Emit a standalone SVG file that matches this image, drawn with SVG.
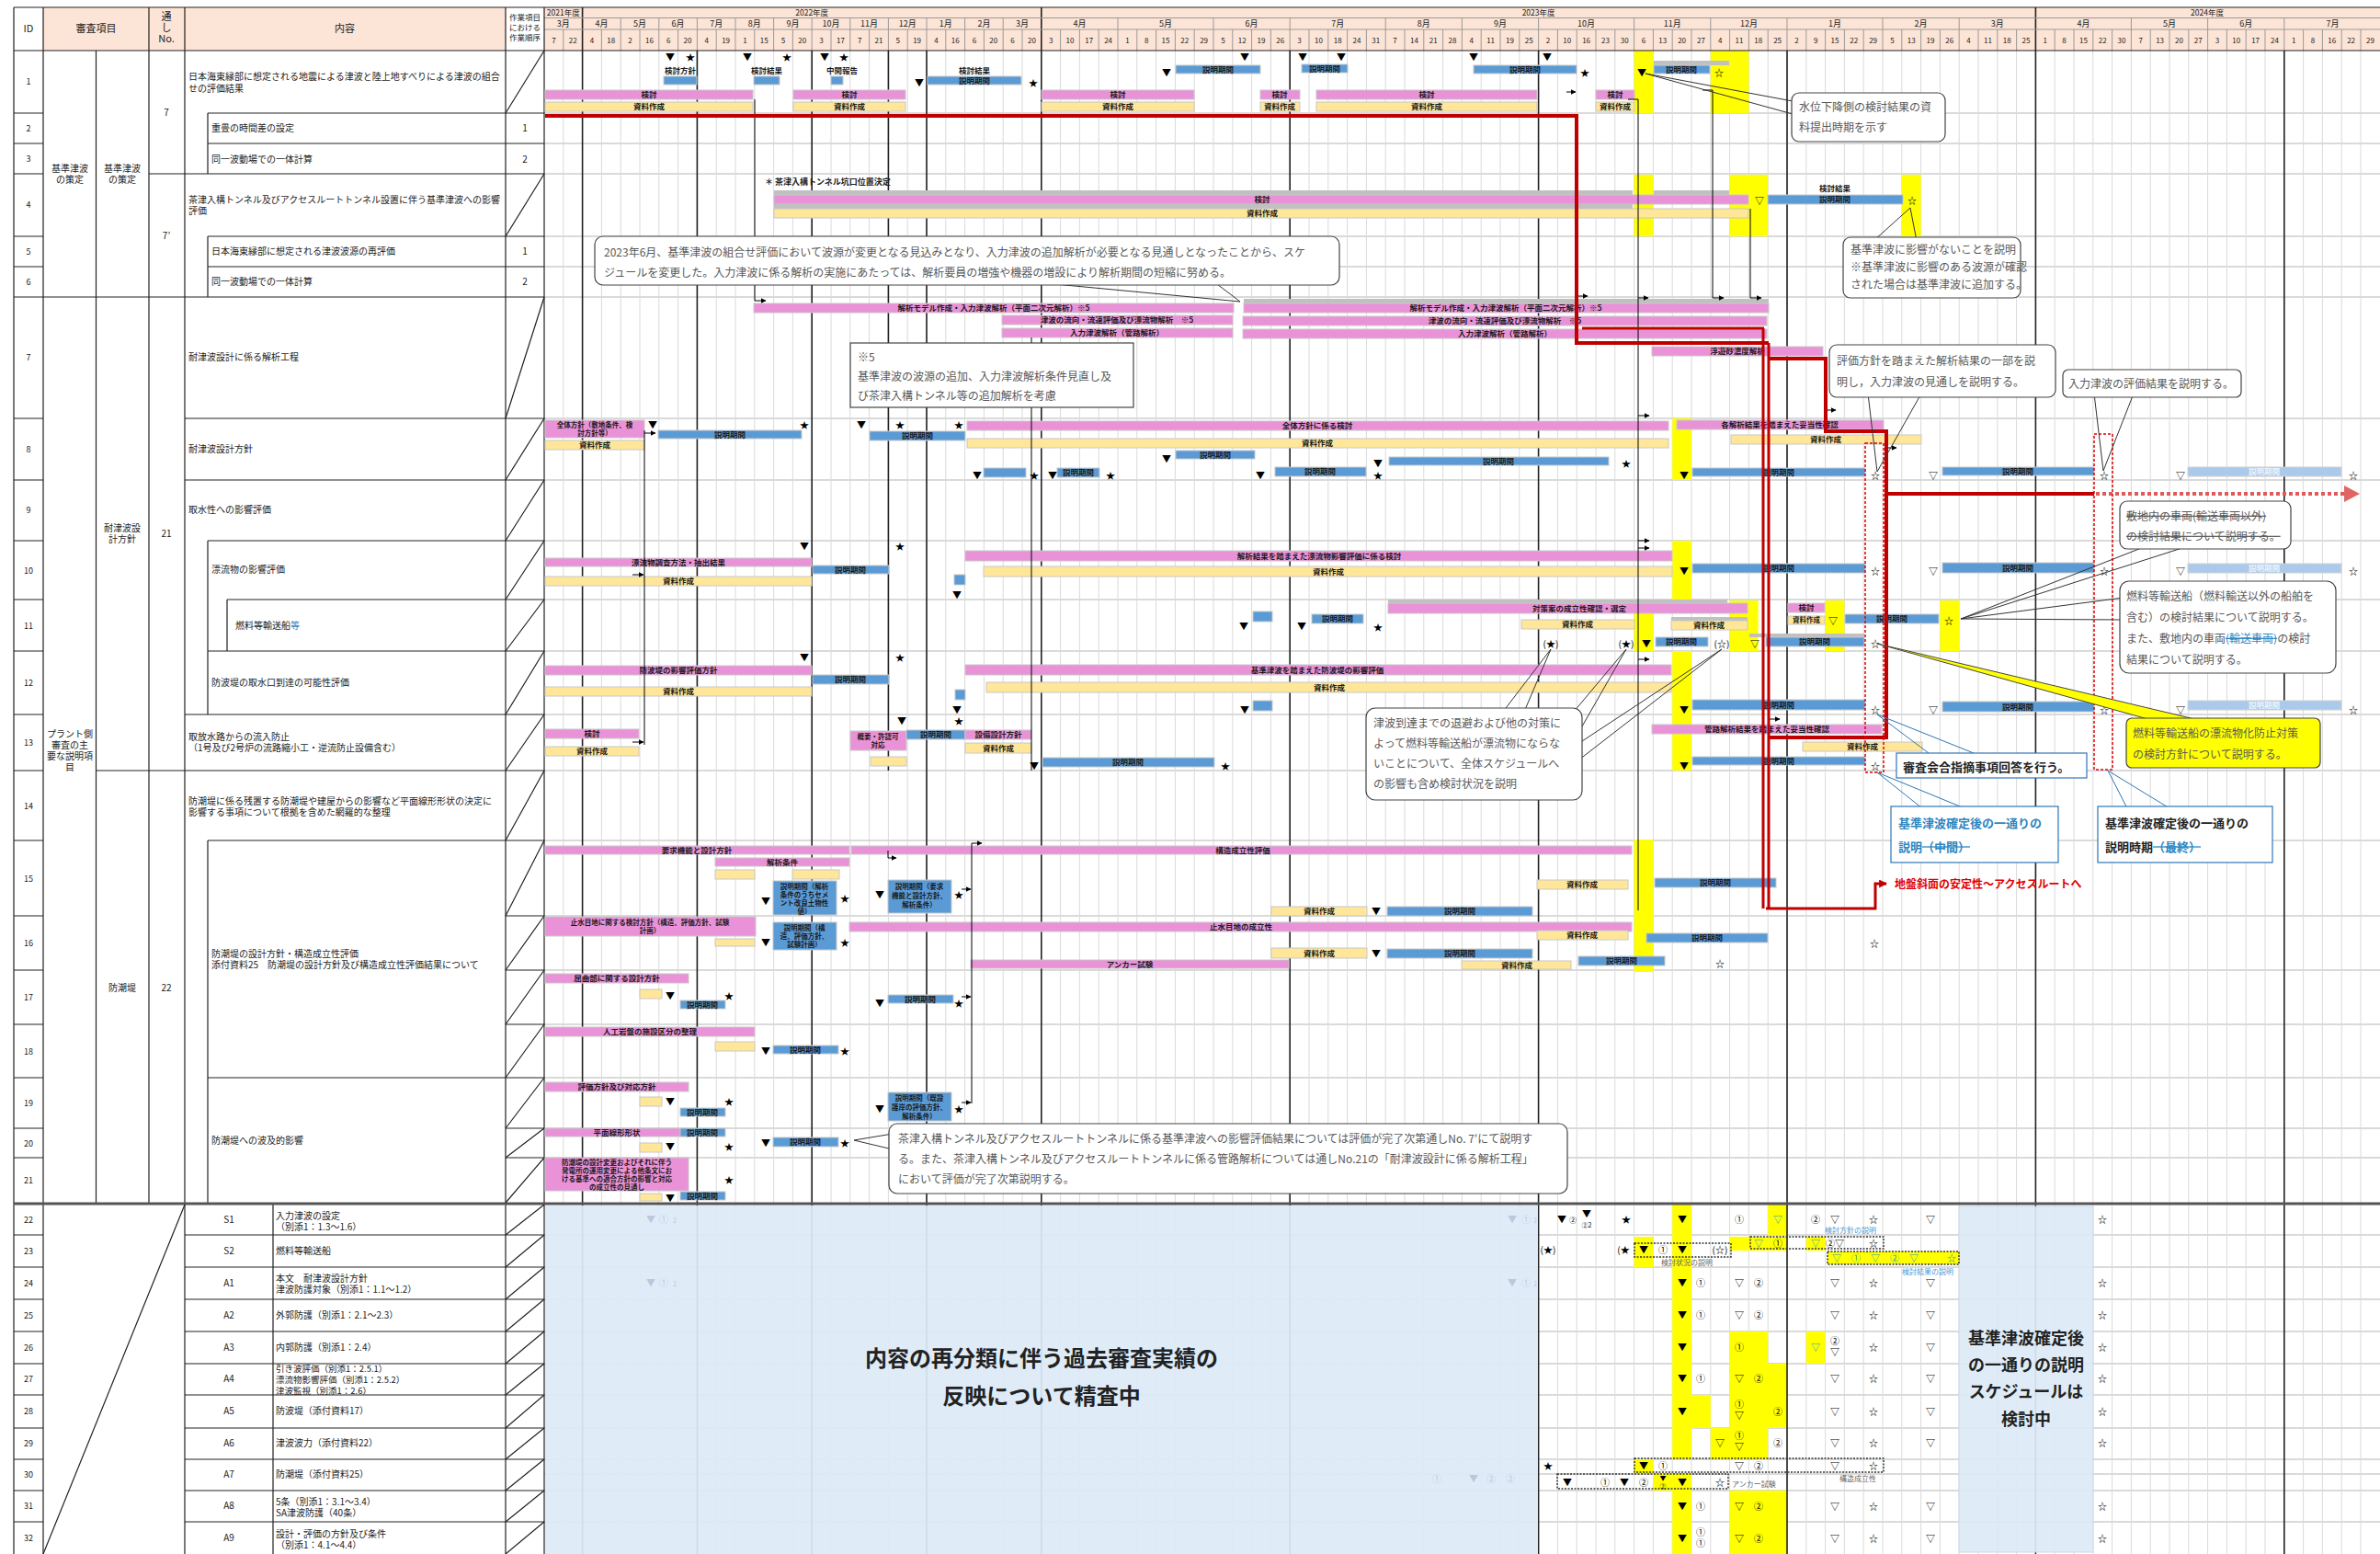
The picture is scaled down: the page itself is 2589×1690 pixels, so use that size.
<svg xmlns="http://www.w3.org/2000/svg" width="2589" height="1690" viewBox="0 0 2589 1690">
<defs>
<style>
text{font-family:"Noto Sans CJK JP","Noto Sans",sans-serif}
.h{font-size:11px;fill:#222;text-anchor:middle}
.hs{font-size:8.5px;fill:#222;text-anchor:middle}
.yr{font-size:8.5px;fill:#222;text-anchor:middle}
.mo{font-size:9px;fill:#222;text-anchor:middle}
.d{font-size:8px;fill:#222;text-anchor:middle}
.id{font-size:9px;fill:#222;text-anchor:middle}
.c{font-size:10px;fill:#222}
.cm{font-size:10px;fill:#222;text-anchor:middle}
.c9{font-size:9.5px;fill:#222}
.pk{fill:#EA92D8;stroke:#C8C8C8;stroke-width:1}
.yl{fill:#FFE699;stroke:#C8C8C8;stroke-width:1}
.bl{fill:#5B9BD5;stroke:#C8C8C8;stroke-width:1}
.lb{fill:#ABCAEB;stroke:#D0D0D0;stroke-width:1}
.gy{fill:#C0C0C0}
.hl{fill:#FFFF00}
.bt{font-size:8.5px;font-weight:bold;fill:#1a1a1a;text-anchor:middle}
.bs{font-size:7.5px;font-weight:bold;fill:#1a1a1a;text-anchor:middle}
.lt{font-size:8.5px;font-weight:bold;fill:#EEF4FB;text-anchor:middle}
.m{font-size:10px;fill:#000;text-anchor:middle}
.mt{font-size:10px;fill:#2AA0B5;text-anchor:middle}
.mf{font-size:10px;fill:#B9C9DA;text-anchor:middle}
.ms{font-size:7px;fill:#000;text-anchor:middle}
.grid{stroke:#DADADA;stroke-width:1;fill:none}
.hg{stroke:#9A9A9A;stroke-width:1;fill:none}
.rowl{stroke:#DADADA;stroke-width:2;fill:none}
.q{stroke:#222;stroke-width:1.6;fill:none}
.tl{stroke:#222;stroke-width:1.2;fill:none}
.cn{stroke:#000;stroke-width:1;fill:none}
.rd{stroke:#C00000;stroke-width:4;fill:none}
.rd3{stroke:#C00000;stroke-width:3;fill:none}
.co{fill:#fff;stroke:#444;stroke-width:1.2}
.ct{font-size:12px;fill:#595959}
.ptr{stroke:#333;stroke-width:1;fill:none}
.dot{fill:none;stroke:#333;stroke-width:1.5;stroke-dasharray:2,1.5}
.gl{font-size:8px;fill:#666}
.bll{font-size:8px;fill:#4A9AD8}
</style>
<marker id="ah" viewBox="0 0 6 6" markerWidth="6" markerHeight="6" refX="5.5" refY="3" orient="auto" markerUnits="userSpaceOnUse"><path d="M0,0L6,3L0,6z" fill="#000"/></marker>
<marker id="ahr" viewBox="0 0 8 8" markerWidth="9" markerHeight="9" refX="7" refY="4" orient="auto" markerUnits="userSpaceOnUse"><path d="M0,0L8,4L0,8z" fill="#C00000"/></marker>
</defs>
<rect width="2589" height="1690" fill="#fff"/>

<g id="header-fill">
<rect x="47" y="8" width="503" height="47" fill="#FCE4D6"/>
<rect x="592" y="8" width="1997" height="47" fill="#FCE4D6"/>
</g>

<g id="grid">
<path class="grid" d="M612.8,55V1690M633.6,55V1690M654.4,55V1690M675.2,55V1690M696,55V1690M716.8,55V1690M737.6,55V1690M758.4,55V1690M779.2,55V1690M800,55V1690M820.8,55V1690M841.6,55V1690M862.4,55V1690M883.2,55V1690M904,55V1690M924.8,55V1690M945.6,55V1690M966.4,55V1690M987.2,55V1690M1008,55V1690M1028.8,55V1690M1049.6,55V1690M1070.4,55V1690M1091.2,55V1690M1112,55V1690M1132.8,55V1690M1153.6,55V1690M1174.4,55V1690M1195.2,55V1690M1216,55V1690M1236.8,55V1690M1257.6,55V1690M1278.4,55V1690M1299.2,55V1690M1320,55V1690M1340.8,55V1690M1361.6,55V1690M1382.4,55V1690M1403.2,55V1690M1424,55V1690M1444.8,55V1690M1465.6,55V1690M1486.4,55V1690M1507.2,55V1690M1528,55V1690M1548.8,55V1690M1569.6,55V1690M1590.4,55V1690M1611.2,55V1690M1632,55V1690M1652.8,55V1690M1673.6,55V1690M1694.4,55V1690M1715.2,55V1690M1736,55V1690M1756.8,55V1690M1777.6,55V1690M1798.4,55V1690M1819.2,55V1690M1840,55V1690M1860.8,55V1690M1881.6,55V1690M1902.4,55V1690M1923.2,55V1690M1944,55V1690M1964.8,55V1690M1985.6,55V1690M2006.4,55V1690M2027.2,55V1690M2048,55V1690M2068.8,55V1690M2089.6,55V1690M2110.4,55V1690M2131.2,55V1690M2152,55V1690M2172.8,55V1690M2193.6,55V1690M2214.4,55V1690M2235.2,55V1690M2256,55V1690M2276.8,55V1690M2297.6,55V1690M2318.4,55V1690M2339.2,55V1690M2360,55V1690M2380.8,55V1690M2401.6,55V1690M2422.4,55V1690M2443.2,55V1690M2464,55V1690M2484.8,55V1690M2505.6,55V1690M2526.4,55V1690M2547.2,55V1690M2568,55V1690"/>
<path class="rowl" d="M592,123H2589M592,156H2589M592,189H2589M592,257H2589M592,290H2589M592,323H2589M592,455H2589M592,522H2589M592,588H2589M592,652H2589M592,708H2589M592,777H2589M592,838H2589M592,914H2589M592,996H2589M592,1055H2589M592,1114H2589M592,1172H2589M592,1227H2589M592,1259H2589M592,1343H2589M592,1378H2589M592,1413H2589M592,1448H2589M592,1483H2589M592,1517H2589M592,1553H2589M592,1587H2589M592,1603H2589M592,1621H2589M592,1655H2589"/>
</g>

<g id="highlights">
<rect class="hl" x="1777.6" y="55" width="20.8" height="68"/>
<rect class="hl" x="1860.8" y="55" width="41.6" height="68"/>
<rect class="hl" x="1777.6" y="190" width="20.8" height="67"/>
<rect class="hl" x="1881.6" y="190" width="41.6" height="67"/>
<rect class="hl" x="2068.8" y="190" width="20.8" height="67"/>
<rect class="hl" x="1819.2" y="455" width="20.8" height="67"/>
<rect class="hl" x="1819.2" y="588" width="20.8" height="65"/>
<rect class="hl" x="1777.6" y="667" width="20.8" height="41"/>
<rect class="hl" x="1881.6" y="653" width="31" height="55"/>
<rect class="hl" x="1985.6" y="653" width="20.8" height="55"/>
<rect class="hl" x="2110.4" y="653" width="20.8" height="55"/>
<rect class="hl" x="1819.2" y="708" width="20.8" height="130"/>
<rect class="hl" x="1777.6" y="913" width="20.8" height="144"/>
<rect class="hl" x="1819.2" y="1310" width="20.8" height="33"/>
<rect class="hl" x="1923.2" y="1310" width="20.8" height="33"/>
<rect class="hl" x="1777.6" y="1345" width="20.8" height="33"/>
<rect class="hl" x="1819.2" y="1343" width="20.8" height="35"/>
<rect class="hl" x="1881.6" y="1345" width="62.4" height="15"/>
<rect class="hl" x="1964.8" y="1345" width="20.8" height="15"/>
<rect class="hl" x="1819.2" y="1378" width="20.8" height="70"/>
<rect class="hl" x="1819.2" y="1448" width="20.8" height="35"/>
<rect class="hl" x="1881.6" y="1448" width="41.6" height="35"/>
<rect class="hl" x="1964.8" y="1448" width="20.8" height="35"/>
<rect class="hl" x="1819.2" y="1483" width="20.8" height="34"/>
<rect class="hl" x="1881.6" y="1483" width="62.4" height="34"/>
<rect class="hl" x="1819.2" y="1517" width="41.6" height="36"/>
<rect class="hl" x="1881.6" y="1517" width="62.4" height="36"/>
<rect class="hl" x="1819.2" y="1553" width="20.8" height="34"/>
<rect class="hl" x="1860.8" y="1553" width="62.4" height="34"/>
<rect class="hl" x="1777.6" y="1587" width="20.8" height="16"/>
<rect class="hl" x="1798.4" y="1603" width="41.6" height="18"/>
<rect class="hl" x="1819.2" y="1621" width="20.8" height="69"/>
<rect class="hl" x="1881.6" y="1621" width="62.4" height="69"/>
</g>

<g id="quarter-lines">
<path class="q" d="M633.6,8V1690M758.4,55V1690M883.2,55V1690M1008,55V1690M1132.8,8V1690M1403.2,55V1690M1673.6,55V1690M1944,55V1690M2214.4,8V1690M2484.8,55V1690M966.4,55V838"/>
</g>

<g id="review-block">
<rect x="593" y="1311" width="1080" height="379" fill="#DDEBF7" opacity="0.93"/>
<text class="mf" y="1330"><tspan x="708">▼</tspan><tspan x="722">①</tspan><tspan x="734" font-size="7">2</tspan><tspan x="1645">▼</tspan><tspan x="1660">①</tspan><tspan x="1670" font-size="7">2</tspan></text>
<text class="mf" y="1399"><tspan x="708">▼</tspan><tspan x="722">①</tspan><tspan x="734" font-size="7">2</tspan><tspan x="1645">▼</tspan><tspan x="1660">①</tspan><tspan x="1670" font-size="7">2</tspan></text>
<text class="mf" y="1612"><tspan x="1563">①</tspan><tspan x="1603">▼</tspan><tspan x="1622">②</tspan><tspan x="1643">②</tspan></text>
<text x="1133" y="1486" font-size="24" font-weight="bold" fill="#222" text-anchor="middle">内容の再分類に伴う過去審査実績の</text>
<text x="1133" y="1527" font-size="24" font-weight="bold" fill="#222" text-anchor="middle">反映について精査中</text>
</g>
<g id="schedule-block">
<rect x="2131" y="1312" width="146" height="376" fill="#DDEBF7" stroke="#C8D6E5" opacity="0.92"/>
<text x="2204" y="1462" font-size="18" font-weight="bold" fill="#222" text-anchor="middle">基準津波確定後</text>
<text x="2204" y="1491" font-size="18" font-weight="bold" fill="#222" text-anchor="middle">の一通りの説明</text>
<text x="2204" y="1520" font-size="18" font-weight="bold" fill="#222" text-anchor="middle">スケジュールは</text>
<text x="2204" y="1550" font-size="18" font-weight="bold" fill="#222" text-anchor="middle">検討中</text>
</g>

<g id="header-timeline">
<path class="hg" d="M592,19.5H2589M592,32H2589"/>
<path class="hg" d="M675.2,19.5V55M716.8,19.5V55M758.4,19.5V55M800,19.5V55M841.6,19.5V55M883.2,19.5V55M924.8,19.5V55M966.4,19.5V55M1008,19.5V55M1049.6,19.5V55M1091.2,19.5V55M1216,19.5V55M1320,19.5V55M1403.2,19.5V55M1507.2,19.5V55M1590.4,19.5V55M1673.6,19.5V55M1777.6,19.5V55M1860.8,19.5V55M1944,19.5V55M2048,19.5V55M2131.2,19.5V55M2318.4,19.5V55M2401.6,19.5V55M2484.8,19.5V55"/>
<path class="hg" d="M612.8,32V55M654.4,32V55M696,32V55M737.6,32V55M779.2,32V55M820.8,32V55M862.4,32V55M904,32V55M945.6,32V55M987.2,32V55M1028.8,32V55M1070.4,32V55M1112,32V55M1153.6,32V55M1174.4,32V55M1195.2,32V55M1236.8,32V55M1257.6,32V55M1278.4,32V55M1299.2,32V55M1340.8,32V55M1361.6,32V55M1382.4,32V55M1424,32V55M1444.8,32V55M1465.6,32V55M1486.4,32V55M1528,32V55M1548.8,32V55M1569.6,32V55M1611.2,32V55M1632,32V55M1652.8,32V55M1694.4,32V55M1715.2,32V55M1736,32V55M1756.8,32V55M1798.4,32V55M1819.2,32V55M1840,32V55M1881.6,32V55M1902.4,32V55M1923.2,32V55M1964.8,32V55M1985.6,32V55M2006.4,32V55M2027.2,32V55M2068.8,32V55M2089.6,32V55M2110.4,32V55M2152,32V55M2172.8,32V55M2193.6,32V55M2235.2,32V55M2256,32V55M2276.8,32V55M2297.6,32V55M2339.2,32V55M2360,32V55M2380.8,32V55M2422.4,32V55M2443.2,32V55M2464,32V55M2505.6,32V55M2526.4,32V55M2547.2,32V55M2568,32V55"/>
<text class="yr" x="612.8" y="17">2021年度</text>
<text class="yr" x="883.2" y="17">2022年度</text>
<text class="yr" x="1673.6" y="17">2023年度</text>
<text class="yr" x="2401" y="17">2024年度</text>
<text class="mo" y="29"><tspan x="612.8">3月</tspan><tspan x="654.4">4月</tspan><tspan x="696">5月</tspan><tspan x="737.6">6月</tspan><tspan x="779.2">7月</tspan><tspan x="820.8">8月</tspan><tspan x="862.4">9月</tspan><tspan x="904">10月</tspan><tspan x="945.6">11月</tspan><tspan x="987.2">12月</tspan><tspan x="1028.8">1月</tspan><tspan x="1070.4">2月</tspan><tspan x="1112">3月</tspan><tspan x="1174.4">4月</tspan><tspan x="1268">5月</tspan><tspan x="1361.6">6月</tspan><tspan x="1455.2">7月</tspan><tspan x="1548.8">8月</tspan><tspan x="1632">9月</tspan><tspan x="1725.6">10月</tspan><tspan x="1819.2">11月</tspan><tspan x="1902.4">12月</tspan><tspan x="1996">1月</tspan><tspan x="2089.6">2月</tspan><tspan x="2172.8">3月</tspan><tspan x="2266.4">4月</tspan><tspan x="2360">5月</tspan><tspan x="2443.2">6月</tspan><tspan x="2537.6">7月</tspan></text>
<text class="d" y="47"><tspan x="602.4">7</tspan><tspan x="623.2">22</tspan><tspan x="644">4</tspan><tspan x="664.8">18</tspan><tspan x="685.6">2</tspan><tspan x="706.4">16</tspan><tspan x="727.2">6</tspan><tspan x="748">20</tspan><tspan x="768.8">4</tspan><tspan x="789.6">19</tspan><tspan x="810.4">1</tspan><tspan x="831.2">15</tspan><tspan x="852">5</tspan><tspan x="872.8">20</tspan><tspan x="893.6">3</tspan><tspan x="914.4">17</tspan><tspan x="935.2">7</tspan><tspan x="956">21</tspan><tspan x="976.8">5</tspan><tspan x="997.6">19</tspan><tspan x="1018.4">4</tspan><tspan x="1039.2">16</tspan><tspan x="1060">6</tspan><tspan x="1080.8">20</tspan><tspan x="1101.6">6</tspan><tspan x="1122.4">20</tspan><tspan x="1143.2">3</tspan><tspan x="1164">10</tspan><tspan x="1184.8">17</tspan><tspan x="1205.6">24</tspan><tspan x="1226.4">1</tspan><tspan x="1247.2">8</tspan><tspan x="1268">15</tspan><tspan x="1288.8">22</tspan><tspan x="1309.6">29</tspan><tspan x="1330.4">5</tspan><tspan x="1351.2">12</tspan><tspan x="1372">19</tspan><tspan x="1392.8">26</tspan><tspan x="1413.6">3</tspan><tspan x="1434.4">10</tspan><tspan x="1455.2">18</tspan><tspan x="1476">24</tspan><tspan x="1496.8">31</tspan><tspan x="1517.6">7</tspan><tspan x="1538.4">14</tspan><tspan x="1559.2">21</tspan><tspan x="1580">28</tspan><tspan x="1600.8">4</tspan><tspan x="1621.6">11</tspan><tspan x="1642.4">19</tspan><tspan x="1663.2">25</tspan><tspan x="1684">2</tspan><tspan x="1704.8">10</tspan><tspan x="1725.6">16</tspan><tspan x="1746.4">23</tspan><tspan x="1767.2">30</tspan><tspan x="1788">6</tspan><tspan x="1808.8">13</tspan><tspan x="1829.6">20</tspan><tspan x="1850.4">27</tspan><tspan x="1871.2">4</tspan><tspan x="1892">11</tspan><tspan x="1912.8">18</tspan><tspan x="1933.6">25</tspan><tspan x="1954.4">2</tspan><tspan x="1975.2">9</tspan><tspan x="1996">15</tspan><tspan x="2016.8">22</tspan><tspan x="2037.6">29</tspan><tspan x="2058.4">5</tspan><tspan x="2079.2">13</tspan><tspan x="2100">19</tspan><tspan x="2120.8">26</tspan><tspan x="2141.6">4</tspan><tspan x="2162.4">11</tspan><tspan x="2183.2">18</tspan><tspan x="2204">25</tspan><tspan x="2224.8">1</tspan><tspan x="2245.6">8</tspan><tspan x="2266.4">15</tspan><tspan x="2287.2">22</tspan><tspan x="2308">30</tspan><tspan x="2328.8">7</tspan><tspan x="2349.6">13</tspan><tspan x="2370.4">20</tspan><tspan x="2391.2">27</tspan><tspan x="2412">3</tspan><tspan x="2432.8">10</tspan><tspan x="2453.6">17</tspan><tspan x="2474.4">24</tspan><tspan x="2495.2">1</tspan><tspan x="2516">8</tspan><tspan x="2536.8">16</tspan><tspan x="2557.6">22</tspan><tspan x="2578.4">29</tspan></text>
</g>

<g id="left-table">
<path class="tl" d="M15,8H2589M15,55H2589M15,8V1690M47,8V1690M104.5,55V1308M162,8V1308M201,8V1690M550,8V1690M592,8V1690M226,123V189M226,257V323M226,588V777M247,652V708M226,914V1308M297,1310V1690"/>
<path class="tl" d="M15,123H47M15,156H47M15,189H47M15,257H47M15,290H47M15,323H201M15,455H47M15,522H47M15,588H47M15,652H47M15,708H47M15,777H47M15,838H47M104.5,838H201M15,914H47M15,996H47M15,1055H47M15,1114H47M15,1172H47M15,1227H47M15,1259H47M162,189H201"/>
<path class="tl" d="M226,123H592M226,156H592M201,189H592M226,257H592M226,290H592M201,323H592M201,455H592M201,522H592M226,588H592M247,652H592M226,708H592M201,777H592M201,838H592M226,914H592M550,996H592M550,1055H592M550,1114H592M226,1172H592M550,1227H592M550,1259H592"/>
<path d="M15,1309H2589" stroke="#555" stroke-width="3"/>
<path class="tl" d="M15,1343H47M15,1378H47M15,1413H47M15,1448H47M15,1483H47M15,1517H47M15,1553H47M15,1587H47M15,1621H47M15,1655H47M201,1343H592M201,1378H592M201,1413H592M201,1448H592M201,1483H592M201,1517H592M201,1553H592M201,1587H592M201,1621H592M201,1655H592M201,1310L47,1690"/>
<path class="tl" d="M550,123L592,55M550,257L592,189M550,455L592,323M550,522L592,455M550,588L592,522M550,652L592,588M550,708L592,652M550,777L592,708M550,838L592,777M550,914L592,838M550,996L592,914M550,1055L592,996M550,1114L592,1055M550,1172L592,1114M550,1227L592,1172M550,1259L592,1227M550,1308L592,1259M550,1343L592,1310M550,1378L592,1343M550,1413L592,1378M550,1448L592,1413M550,1483L592,1448M550,1517L592,1483M550,1553L592,1517M550,1587L592,1553M550,1621L592,1587M550,1655L592,1621M550,1690L592,1655"/>
<text class="h" x="31" y="35" font-size="10">ID</text>
<text class="h" x="104.5" y="35">審査項目</text>
<text class="h" x="181" y="22" font-size="10">通</text>
<text class="h" x="181" y="34" font-size="10">し</text>
<text class="h" x="181" y="46" font-size="10">No.</text>
<text class="h" x="375" y="35">内容</text>
<text class="hs" x="571" y="22">作業項目</text>
<text class="hs" x="571" y="33">における</text>
<text class="hs" x="571" y="44">作業順序</text>
<text class="id" y="0"><tspan x="31" y="92">1</tspan><tspan x="31" y="143">2</tspan><tspan x="31" y="176">3</tspan><tspan x="31" y="226">4</tspan><tspan x="31" y="277">5</tspan><tspan x="31" y="310">6</tspan><tspan x="31" y="392">7</tspan><tspan x="31" y="492">8</tspan><tspan x="31" y="558">9</tspan><tspan x="31" y="624">10</tspan><tspan x="31" y="684">11</tspan><tspan x="31" y="746">12</tspan><tspan x="31" y="811">13</tspan><tspan x="31" y="880">14</tspan><tspan x="31" y="959">15</tspan><tspan x="31" y="1029">16</tspan><tspan x="31" y="1088">17</tspan><tspan x="31" y="1147">18</tspan><tspan x="31" y="1203">19</tspan><tspan x="31" y="1247">20</tspan><tspan x="31" y="1287">21</tspan><tspan x="31" y="1330">22</tspan><tspan x="31" y="1364">23</tspan><tspan x="31" y="1399">24</tspan><tspan x="31" y="1434">25</tspan><tspan x="31" y="1469">26</tspan><tspan x="31" y="1503">27</tspan><tspan x="31" y="1538">28</tspan><tspan x="31" y="1573">29</tspan><tspan x="31" y="1607">30</tspan><tspan x="31" y="1641">31</tspan><tspan x="31" y="1676">32</tspan></text>
<text class="cm" x="76" y="187">基準津波</text><text class="cm" x="76" y="199">の策定</text>
<text class="cm" x="133" y="187">基準津波</text><text class="cm" x="133" y="199">の策定</text>
<text class="cm" x="76" y="802">プラント側</text><text class="cm" x="76" y="814">審査の主</text><text class="cm" x="76" y="826">要な説明項</text><text class="cm" x="76" y="838">目</text>
<text class="cm" x="133" y="578">耐津波設</text><text class="cm" x="133" y="590">計方針</text>
<text class="cm" x="133" y="1078">防潮堤</text>
<text class="cm" x="181" y="126">7</text>
<text class="cm" x="181" y="260">7’</text>
<text class="cm" x="181" y="584">21</text>
<text class="cm" x="181" y="1078">22</text>
<text class="c" x="205" y="87">日本海東縁部に想定される地震による津波と陸上地すべりによる津波の組合</text>
<text class="c" x="205" y="100">せの評価結果</text>
<text class="c" x="230" y="143">重畳の時間差の設定</text>
<text class="c" x="230" y="177">同一波動場での一体計算</text>
<text class="c" x="205" y="221">茶津入構トンネル及びアクセスルートトンネル設置に伴う基準津波への影響</text>
<text class="c" x="205" y="233">評価</text>
<text class="c" x="230" y="277">日本海東縁部に想定される津波波源の再評価</text>
<text class="c" x="230" y="310">同一波動場での一体計算</text>
<text class="cm" x="571" y="143">1</text><text class="cm" x="571" y="177">2</text>
<text class="cm" x="571" y="277">1</text><text class="cm" x="571" y="310">2</text>
<text class="c" x="205" y="392">耐津波設計に係る解析工程</text>
<text class="c" x="205" y="492">耐津波設計方針</text>
<text class="c" x="205" y="558">取水性への影響評価</text>
<text class="c" x="230" y="623">漂流物の影響評価</text>
<text class="c" x="256" y="684">燃料等輸送船<tspan fill="#2E86C1">等</tspan></text>
<text class="c" x="230" y="746">防波堤の取水口到達の可能性評価</text>
<text class="c" x="205" y="805">取放水路からの流入防止</text>
<text class="c" x="205" y="817">（1号及び2号炉の流路縮小工・逆流防止設備含む）</text>
<text class="c" x="205" y="875">防潮堤に係る残置する防潮堤や建屋からの影響など平面線形形状の決定に</text>
<text class="c" x="205" y="887">影響する事項について根拠を含めた網羅的な整理</text>
<text class="c" x="230" y="1041">防潮堤の設計方針・構造成立性評価</text>
<text class="c" x="230" y="1053">添付資料25　防潮堤の設計方針及び構造成立性評価結果について</text>
<text class="c" x="230" y="1244">防潮堤への波及的影響</text>
<text class="cm" x="249" y="1330">S1</text><text class="c" x="300" y="1326">入力津波の設定</text><text class="c" x="300" y="1338">（別添1：1.3〜1.6）</text>
<text class="cm" x="249" y="1364">S2</text><text class="c" x="300" y="1364">燃料等輸送船</text>
<text class="cm" x="249" y="1399">A1</text><text class="c" x="300" y="1394">本文　耐津波設計方針</text><text class="c" x="300" y="1406">津波防護対象（別添1：1.1〜1.2）</text>
<text class="cm" x="249" y="1434">A2</text><text class="c" x="300" y="1434">外郭防護（別添1：2.1〜2.3）</text>
<text class="cm" x="249" y="1469">A3</text><text class="c" x="300" y="1469">内郭防護（別添1：2.4）</text>
<text class="cm" x="249" y="1503">A4</text><text class="c9" x="300" y="1492">引き波評価（別添1：2.5.1）</text><text class="c9" x="300" y="1504">漂流物影響評価（別添1：2.5.2）</text><text class="c9" x="300" y="1516">津波監視（別添1：2.6）</text>
<text class="cm" x="249" y="1538">A5</text><text class="c" x="300" y="1538">防波堤（添付資料17）</text>
<text class="cm" x="249" y="1573">A6</text><text class="c" x="300" y="1573">津波波力（添付資料22）</text>
<text class="cm" x="249" y="1607">A7</text><text class="c" x="300" y="1607">防潮堤（添付資料25）</text>
<text class="cm" x="249" y="1641">A8</text><text class="c" x="300" y="1637">5条（別添1：3.1〜3.4）</text><text class="c" x="300" y="1649">SA津波防護（40条）</text>
<text class="cm" x="249" y="1676">A9</text><text class="c" x="300" y="1672">設計・評価の方針及び条件</text><text class="c" x="300" y="1684">（別添1：4.1〜4.4）</text>
</g>

<g id="row-1">
<rect class="pk" x="593" y="98" width="226" height="10"/><text class="bt" x="706" y="106">検討</text>
<rect class="yl" x="593" y="111" width="226" height="10"/><text class="bt" x="706" y="119">資料作成</text>
<rect class="pk" x="863" y="98" width="122" height="10"/><text class="bt" x="924" y="106">検討</text>
<rect class="yl" x="863" y="111" width="122" height="10"/><text class="bt" x="924" y="119">資料作成</text>
<rect class="pk" x="1133" y="98" width="166" height="10"/><text class="bt" x="1216" y="106">検討</text>
<rect class="yl" x="1133" y="111" width="166" height="10"/><text class="bt" x="1216" y="119">資料作成</text>
<rect class="pk" x="1371" y="98" width="43" height="10"/><text class="bt" x="1392" y="106">検討</text>
<rect class="yl" x="1371" y="111" width="43" height="10"/><text class="bt" x="1392" y="119">資料作成</text>
<rect class="pk" x="1432" y="98" width="240" height="10"/><text class="bt" x="1552" y="106">検討</text>
<rect class="yl" x="1432" y="111" width="240" height="10"/><text class="bt" x="1552" y="119">資料作成</text>
<rect class="pk" x="1736" y="98" width="42" height="10"/><text class="bt" x="1757" y="106">検討</text>
<rect class="yl" x="1736" y="111" width="42" height="10"/><text class="bt" x="1757" y="119">資料作成</text>
<text class="bt" x="740" y="80">検討方針</text><rect class="bl" x="722" y="83" width="36" height="9"/>
<text class="bt" x="834" y="80">検討結果</text><rect class="bl" x="820" y="83" width="28" height="9"/>
<text class="bt" x="916" y="80">中間報告</text><rect class="bl" x="904" y="83" width="13" height="9"/>
<text class="bt" x="1060" y="80">検討結果</text><rect class="bl" x="1009" y="83" width="102" height="9"/><text class="bt" x="1060" y="91">説明期間</text>
<rect class="bl" x="1279" y="71" width="92" height="9"/><text class="bt" x="1325" y="79">説明期間</text>
<rect class="bl" x="1416" y="70" width="50" height="9"/><text class="bt" x="1441" y="78">説明期間</text>
<rect class="bl" x="1603" y="71" width="112" height="9"/><text class="bt" x="1659" y="79">説明期間</text>
<rect class="gy" x="1799" y="66" width="82" height="5"/>
<rect class="bl" x="1799" y="71" width="61" height="9"/><text class="bt" x="1829" y="79">説明期間</text>
<text class="m" y="66"><tspan x="729">▼</tspan><tspan x="751">★</tspan><tspan x="813">▼</tspan><tspan x="856">★</tspan><tspan x="897">▼</tspan><tspan x="918">★</tspan><tspan x="1354">▼</tspan><tspan x="1417">▼</tspan><tspan x="1459">▼</tspan><tspan x="1603">▼</tspan><tspan x="1683">▼</tspan></text>
<text class="m" y="94"><tspan x="1000">▼</tspan><tspan x="1124">★</tspan></text>
<text class="m" y="83"><tspan x="1269">▼</tspan><tspan x="1724">★</tspan><tspan x="1786">▼</tspan><tspan x="1870">☆</tspan></text>
</g>

<g id="row-4">
<text x="832" y="201" font-size="9" font-weight="bold" fill="#222">＊ 茶津入構トンネル坑口位置決定</text>
<rect class="gy" x="842" y="207" width="934" height="5"/>
<rect class="gy" x="1799" y="207" width="82" height="5"/>
<rect class="pk" x="842" y="212" width="1060" height="10"/><text class="bt" x="1373" y="220">検討</text>
<rect class="gy" x="842" y="222" width="934" height="5"/>
<rect class="yl" x="842" y="227" width="1060" height="10"/><text class="bt" x="1373" y="235">資料作成</text>
<text class="bt" x="1996" y="208">検討結果</text>
<rect class="bl" x="1923" y="212" width="147" height="10"/><text class="bt" x="1996" y="220">説明期間</text>
<text class="m" y="222"><tspan x="1914">▽</tspan><tspan x="2080">☆</tspan></text>
</g>

<g id="row-7">
<rect class="gy" x="1353" y="325" width="571" height="5"/>
<rect class="pk" x="820" y="330" width="522" height="10"/><text class="bt" x="1081" y="338">解析モデル作成・入力津波解析（平面二次元解析）※5</text>
<rect class="pk" x="1353" y="330" width="571" height="10"/><text class="bt" x="1638" y="338">解析モデル作成・入力津波解析（平面二次元解析）※5</text>
<rect class="pk" x="1090" y="343" width="251" height="10"/><text class="bt" x="1215" y="351">津波の流向・流速評価及び漂流物解析　※5</text>
<rect class="pk" x="1352" y="344" width="570" height="10"/><text class="bt" x="1637" y="352">津波の流向・流速評価及び漂流物解析　※5</text>
<rect class="pk" x="1090" y="357" width="251" height="10"/><text class="bt" x="1215" y="365">入力津波解析（管路解析）</text>
<rect class="pk" x="1352" y="358" width="570" height="10"/><text class="bt" x="1637" y="366">入力津波解析（管路解析）</text>
<rect class="pk" x="1797" y="377" width="186" height="10"/><text class="bt" x="1890" y="385">浮遊砂濃度解析</text>
</g>

<g id="row-8">
<rect class="pk" x="593" y="457" width="108" height="19"/><text class="bs" x="647" y="465">全体方針（敷地条件、検</text><text class="bs" x="647" y="474">討方針等）</text>
<rect class="yl" x="593" y="479" width="108" height="10"/><text class="bt" x="647" y="487">資料作成</text>
<rect class="bl" x="716" y="468" width="156" height="9"/><text class="bt" x="794" y="476">説明期間</text>
<rect class="bl" x="946" y="469" width="104" height="10"/><text class="bt" x="998" y="477">説明期間</text>
<rect class="pk" x="1052" y="458" width="763" height="10"/><text class="bt" x="1433" y="466">全体方針に係る検討</text>
<rect class="yl" x="1052" y="477" width="763" height="10"/><text class="bt" x="1433" y="485">資料作成</text>
<rect class="bl" x="1279" y="490" width="86" height="9"/><text class="bt" x="1322" y="498">説明期間</text>
<rect class="bl" x="1511" y="497" width="239" height="9"/><text class="bt" x="1630" y="505">説明期間</text>
<rect class="bl" x="1070" y="509" width="46" height="10"/>
<rect class="bl" x="1150" y="509" width="46" height="10"/><text class="bt" x="1173" y="517">説明期間</text>
<rect class="bl" x="1387" y="508" width="99" height="10"/><text class="bt" x="1436" y="516">説明期間</text>
<rect class="pk" x="1824" y="457" width="225" height="10"/><text class="bt" x="1936" y="465">各解析結果を踏まえた妥当性確認</text>
<rect class="yl" x="1883" y="473" width="207" height="10"/><text class="bt" x="1986" y="481">資料作成</text>
<rect class="bl" x="1841" y="509" width="188" height="9"/><text class="bt" x="1935" y="517">説明期間</text>
<rect class="bl" x="2113" y="508" width="165" height="9"/><text class="bt" x="2195" y="516">説明期間</text>
<rect class="lb" x="2380" y="508" width="167" height="10"/><text class="lt" x="2463" y="516">説明期間</text>
<text class="m" y="466"><tspan x="710">▼</tspan><tspan x="875">★</tspan><tspan x="937">▼</tspan><tspan x="979">★</tspan><tspan x="1043">★</tspan></text>
<text class="m" y="503"><tspan x="1269">▼</tspan></text>
<text class="m" y="508"><tspan x="1499">▼</tspan><tspan x="1769">★</tspan></text>
<text class="m" y="521"><tspan x="1063">▼</tspan><tspan x="1125">★</tspan><tspan x="1145">▼</tspan><tspan x="1208">★</tspan><tspan x="1371">▼</tspan><tspan x="1499">★</tspan><tspan x="1832">▼</tspan><tspan x="2040">☆</tspan><tspan x="2103">▽</tspan><tspan x="2289">☆</tspan><tspan x="2372">▽</tspan><tspan x="2560">☆</tspan></text>
</g>

<g id="row-10">
<rect class="pk" x="593" y="607" width="290" height="9"/><text class="bt" x="738" y="615">漂流物調査方法・抽出結果</text>
<rect class="bl" x="884" y="615" width="83" height="9"/><text class="bt" x="925" y="623">説明期間</text>
<rect class="yl" x="593" y="627" width="290" height="10"/><text class="bt" x="738" y="635">資料作成</text>
<rect class="bl" x="1038" y="625" width="12" height="11"/>
<rect class="pk" x="1050" y="599" width="769" height="11"/><text class="bt" x="1435" y="608">解析結果を踏まえた漂流物影響評価に係る検討</text>
<rect class="yl" x="1070" y="616" width="749" height="11"/><text class="bt" x="1445" y="625">資料作成</text>
<rect class="bl" x="1841" y="613" width="188" height="10"/><text class="bt" x="1935" y="621">説明期間</text>
<rect class="bl" x="2113" y="612" width="165" height="11"/><text class="bt" x="2195" y="621">説明期間</text>
<rect class="lb" x="2380" y="613" width="167" height="10"/><text class="lt" x="2463" y="621">説明期間</text>
<text class="m" y="598"><tspan x="875">▼</tspan><tspan x="979">★</tspan></text>
<text class="m" y="651"><tspan x="1041">▼</tspan></text>
<text class="m" y="625"><tspan x="1832">▼</tspan><tspan x="2040">☆</tspan><tspan x="2103">▽</tspan><tspan x="2289">☆</tspan><tspan x="2372">▽</tspan><tspan x="2560">☆</tspan></text>
</g>

<g id="row-11">
<rect class="gy" x="1510" y="652" width="369" height="4"/>
<rect class="pk" x="1510" y="656" width="391" height="11"/><text class="bt" x="1718" y="665">対策案の成立性確認・選定</text>
<rect class="bl" x="1363" y="665" width="21" height="11"/>
<rect class="bl" x="1427" y="668" width="56" height="10"/><text class="bt" x="1455" y="676">説明期間</text>
<rect class="yl" x="1655" y="674" width="123" height="10"/><text class="bt" x="1716" y="682">資料作成</text>
<rect class="bl" x="1801" y="693" width="57" height="10"/><text class="bt" x="1829" y="701">説明期間</text>
<rect class="gy" x="1818" y="671" width="83" height="4"/>
<rect class="yl" x="1818" y="675" width="83" height="10"/><text class="bt" x="1859" y="683">資料作成</text>
<rect class="gy" x="1903" y="689" width="125" height="4"/>
<rect class="bl" x="1921" y="693" width="107" height="10"/><text class="bt" x="1974" y="701">説明期間</text>
<rect class="pk" x="1945" y="656" width="40" height="10"/><text class="bt" x="1965" y="664">検討</text>
<rect class="yl" x="1945" y="670" width="40" height="9"/><text class="bs" x="1965" y="677" font-size="6.5">資料作成</text>
<rect class="bl" x="2007" y="668" width="102" height="10"/><text class="bt" x="2058" y="676">説明期間</text>
<text class="m" y="685"><tspan x="1353">▼</tspan><tspan x="1416">▼</tspan></text>
<text class="m" y="686"><tspan x="1499">★</tspan></text>
<text class="m" y="704"><tspan x="1687">(★)</tspan><tspan x="1769">(★)</tspan><tspan x="1791">▼</tspan><tspan x="1873">(☆)</tspan><tspan x="1909">▽</tspan><tspan x="2040">☆</tspan></text>
<text class="m" y="679"><tspan x="1994">▽</tspan><tspan x="2120">☆</tspan></text>
</g>

<g id="row-12">
<rect class="pk" x="593" y="724" width="290" height="10"/><text class="bt" x="738" y="732">防波堤の影響評価方針</text>
<rect class="bl" x="884" y="734" width="83" height="10"/><text class="bt" x="925" y="742">説明期間</text>
<rect class="yl" x="593" y="747" width="290" height="10"/><text class="bt" x="738" y="755">資料作成</text>
<rect class="bl" x="1039" y="750" width="11" height="11"/>
<rect class="pk" x="1050" y="723" width="768" height="11"/><text class="bt" x="1433" y="732">基準津波を踏まえた防波堤の影響評価</text>
<rect class="yl" x="1073" y="742" width="745" height="11"/><text class="bt" x="1446" y="751">資料作成</text>
<rect class="bl" x="1363" y="762" width="21" height="11"/>
<rect class="bl" x="1841" y="761" width="188" height="11"/><text class="bt" x="1935" y="770">説明期間</text>
<rect class="bl" x="2113" y="763" width="165" height="11"/><text class="bt" x="2195" y="772">説明期間</text>
<rect class="lb" x="2380" y="762" width="167" height="10"/><text class="lt" x="2463" y="770">説明期間</text>
<text class="m" y="719"><tspan x="875">▼</tspan><tspan x="979">★</tspan></text>
<text class="m" y="776"><tspan x="1041">▼</tspan><tspan x="1354">▼</tspan><tspan x="1832">▼</tspan><tspan x="2040">☆</tspan><tspan x="2103">▽</tspan><tspan x="2289">☆</tspan><tspan x="2372">▽</tspan><tspan x="2560">☆</tspan></text>
</g>

<g id="row-13">
<rect class="pk" x="593" y="793" width="102" height="10"/><text class="bt" x="644" y="801">検討</text>
<rect class="yl" x="593" y="812" width="102" height="10"/><text class="bt" x="644" y="820">資料作成</text>
<rect class="pk" x="925" y="795" width="61" height="21"/><text class="bs" x="955" y="804">概要・許認可</text><text class="bs" x="955" y="813">対応</text>
<rect class="bl" x="986" y="794" width="64" height="10"/><text class="bt" x="1018" y="802">説明期間</text>
<rect class="pk" x="1050" y="794" width="72" height="10"/><text class="bt" x="1086" y="802">設備設計方針</text>
<rect class="yl" x="1050" y="808" width="72" height="11"/><text class="bt" x="1086" y="817">資料作成</text>
<rect class="yl" x="947" y="823" width="39" height="10"/>
<rect class="bl" x="1134" y="824" width="187" height="10"/><text class="bt" x="1227" y="832">説明期間</text>
<rect class="pk" x="1797" y="788" width="250" height="10"/><text class="bt" x="1922" y="796">管路解析結果を踏まえた妥当性確認</text>
<rect class="yl" x="1961" y="807" width="130" height="10"/><text class="bt" x="2026" y="815">資料作成</text>
<rect class="bl" x="1841" y="823" width="188" height="9"/><text class="bt" x="1935" y="831">説明期間</text>
<text class="m" y="788"><tspan x="981">▼</tspan><tspan x="1043">★</tspan></text>
<text class="m" y="837"><tspan x="1125">▼</tspan><tspan x="1333">★</tspan><tspan x="1832">▼</tspan><tspan x="2040">☆</tspan></text>
</g>

<g id="row-15">
<rect class="pk" x="593" y="920" width="331" height="9"/><text class="bt" x="758" y="928">要求機能と設計方針</text>
<rect class="pk" x="926" y="920" width="849" height="9"/><text class="bt" x="1352" y="928">構造成立性評価</text>
<rect class="pk" x="778" y="933" width="146" height="9"/><text class="bt" x="851" y="941">解析条件</text>
<rect class="yl" x="778" y="946" width="43" height="10"/>
<rect class="yl" x="862" y="946" width="51" height="10"/>
<rect class="bl" x="841" y="958" width="69" height="37"/><text class="bs" x="875" y="967">説明期間（解析</text><text class="bs" x="875" y="976">条件のうちセメ</text><text class="bs" x="875" y="985">ント改良土物性</text><text class="bs" x="875" y="994">値）</text>
<rect class="bl" x="966" y="957" width="69" height="36"/><text class="bs" x="1000" y="967">説明期間（要求</text><text class="bs" x="1000" y="977">機能と設計方針、</text><text class="bs" x="1000" y="987">解析条件）</text>
<rect class="yl" x="1383" y="986" width="104" height="10"/><text class="bt" x="1435" y="994">資料作成</text>
<rect class="bl" x="1509" y="986" width="158" height="10"/><text class="bt" x="1588" y="994">説明期間</text>
<rect class="yl" x="1672" y="957" width="99" height="10"/><text class="bt" x="1721" y="965">資料作成</text>
<rect class="bl" x="1800" y="955" width="132" height="10"/><text class="bt" x="1866" y="963">説明期間</text>
<text class="m" y="984"><tspan x="833">▼</tspan></text>
<text class="m" y="981"><tspan x="919">★</tspan></text>
<text class="m" y="977"><tspan x="957">▼</tspan><tspan x="1043">★</tspan></text>
<text class="m" y="995"><tspan x="1497">▼</tspan></text>
</g>

<g id="row-16">
<rect class="pk" x="593" y="997" width="229" height="21"/><text class="bs" x="707" y="1006">止水目地に関する検討方針（構造、評価方針、試験</text><text class="bs" x="707" y="1015">計画）</text>
<rect class="yl" x="778" y="1021" width="43" height="8"/>
<rect class="bl" x="841" y="1003" width="69" height="30"/><text class="bs" x="875" y="1012">説明期間（構</text><text class="bs" x="875" y="1021">造、評価方針、</text><text class="bs" x="875" y="1030">試験計画）</text>
<rect class="pk" x="924" y="1003" width="851" height="10"/><text class="bt" x="1350" y="1011">止水目地の成立性</text>
<rect class="yl" x="1383" y="1031" width="104" height="11"/><text class="bt" x="1435" y="1040">資料作成</text>
<rect class="bl" x="1509" y="1032" width="158" height="10"/><text class="bt" x="1588" y="1040">説明期間</text>
<rect class="pk" x="1056" y="1044" width="346" height="9"/><text class="bt" x="1229" y="1052">アンカー試験</text>
<rect class="yl" x="1590" y="1045" width="119" height="9"/><text class="bt" x="1650" y="1053">資料作成</text>
<rect class="bl" x="1717" y="1040" width="94" height="10"/><text class="bt" x="1764" y="1048">説明期間</text>
<rect class="yl" x="1672" y="1012" width="99" height="10"/><text class="bt" x="1721" y="1020">資料作成</text>
<rect class="bl" x="1791" y="1015" width="132" height="10"/><text class="bt" x="1857" y="1023">説明期間</text>
<text class="m" y="1029"><tspan x="833">▼</tspan><tspan x="919">★</tspan></text>
<text class="m" y="1041"><tspan x="1497">▼</tspan></text>
<text class="m" y="1030"><tspan x="2039">☆</tspan></text>
<text class="m" y="1052"><tspan x="1871">☆</tspan></text>
</g>

<g id="row-17">
<rect class="pk" x="593" y="1059" width="156" height="10"/><text class="bt" x="671" y="1067">屈曲部に関する設計方針</text>
<rect class="yl" x="696" y="1076" width="24" height="10"/>
<rect class="bl" x="740" y="1088" width="49" height="9"/><text class="bt" x="764" y="1096">説明期間</text>
<rect class="bl" x="966" y="1082" width="71" height="9"/><text class="bt" x="1001" y="1090">説明期間</text>
<text class="m" y="1087"><tspan x="729">▼</tspan><tspan x="793">★</tspan></text>
<text class="m" y="1095"><tspan x="957">▼</tspan><tspan x="1043">★</tspan></text>
</g>
<g id="row-18">
<rect class="pk" x="593" y="1117" width="228" height="10"/><text class="bt" x="707" y="1125">人工岩盤の施設区分の整理</text>
<rect class="yl" x="778" y="1133" width="43" height="10"/>
<rect class="bl" x="841" y="1137" width="71" height="9"/><text class="bt" x="876" y="1145">説明期間</text>
<text class="m" y="1147"><tspan x="833">▼</tspan><tspan x="919">★</tspan></text>
</g>
<g id="row-19">
<rect class="pk" x="593" y="1177" width="156" height="10"/><text class="bt" x="671" y="1185">評価方針及び対応方針</text>
<rect class="yl" x="696" y="1193" width="24" height="10"/>
<rect class="bl" x="740" y="1205" width="49" height="9"/><text class="bt" x="764" y="1213">説明期間</text>
<rect class="bl" x="966" y="1188" width="69" height="31"/><text class="bs" x="1000" y="1197">説明期間（既設</text><text class="bs" x="1000" y="1207">護岸の評価方針、</text><text class="bs" x="1000" y="1217">解析条件）</text>
<text class="m" y="1202"><tspan x="729">▼</tspan><tspan x="793">★</tspan></text>
<text class="m" y="1210"><tspan x="957">▼</tspan><tspan x="1043">★</tspan></text>
</g>
<g id="row-20">
<rect class="pk" x="593" y="1227" width="156" height="9"/><text class="bt" x="671" y="1235">平面線形形状</text>
<rect class="bl" x="740" y="1227" width="49" height="9"/><text class="bt" x="764" y="1235">説明期間</text>
<rect class="yl" x="696" y="1243" width="24" height="10"/>
<rect class="bl" x="841" y="1237" width="71" height="10"/><text class="bt" x="876" y="1245">説明期間</text>
<text class="m" y="1251"><tspan x="729">▼</tspan><tspan x="793">★</tspan></text>
<text class="m" y="1247"><tspan x="833">▼</tspan><tspan x="919">★</tspan></text>
</g>
<g id="row-21">
<rect class="pk" x="593" y="1259" width="156" height="36"/><text class="bs" x="671" y="1267">防潮堤の設計変更およびそれに伴う</text><text class="bs" x="671" y="1276">発電所の運用変更による他条文にお</text><text class="bs" x="671" y="1285">ける基準への適合方針の影響と対応</text><text class="bs" x="671" y="1294">の成立性の見通し</text>
<rect class="yl" x="696" y="1298" width="24" height="8"/>
<rect class="bl" x="740" y="1296" width="49" height="9"/><text class="bt" x="764" y="1304">説明期間</text>
<text class="m" y="1307"><tspan x="729">▼</tspan></text>
<text class="m" y="1287"><tspan x="793">★</tspan></text>
</g>

<g id="rows-22-32">
<text class="m" y="1330"><tspan x="1699">▼</tspan><tspan x="1711" font-size="8">②</tspan><tspan x="1769">★</tspan><tspan x="1830">▼</tspan><tspan x="1892">①</tspan><tspan x="1975">②</tspan><tspan x="1996">▽</tspan><tspan x="2038">☆</tspan><tspan x="2100">▽</tspan><tspan x="2287">☆</tspan></text>
<text class="m" y="1324"><tspan x="1726">▼</tspan></text>
<text class="ms" x="1726" y="1335">②2</text>
<text class="mt" x="1934" y="1330">▽</text>
<text class="bll" x="2013" y="1341" text-anchor="middle">検討方針の説明</text>
<rect class="dot" x="1778" y="1352" width="105" height="15"/>
<text class="m" y="1363"><tspan x="1684">(★)</tspan><tspan x="1766">(★</tspan><tspan x="1788">▼</tspan><tspan x="1809">①</tspan><tspan x="1830">▼</tspan><tspan x="1871">(☆)</tspan></text>
<text class="gl" x="1835" y="1376" text-anchor="middle">検討状況の説明</text>
<rect class="dot" x="1904" y="1345" width="145" height="13"/>
<text class="m" y="1356"><tspan x="1934">①</tspan><tspan x="1996">②▽</tspan><tspan x="2038">☆</tspan></text>
<text class="mt" y="1356"><tspan x="1913">▽</tspan><tspan x="1975">▽</tspan></text>
<rect x="1988" y="1361" width="143" height="14" fill="#FFFF00" stroke="#333" stroke-width="1.5" stroke-dasharray="2,1.5"/>
<text class="mt" y="1372"><tspan x="1998">▽</tspan><tspan x="2019">①</tspan><tspan x="2040">▽</tspan><tspan x="2061">②</tspan><tspan x="2082">▽</tspan><tspan x="2123">☆</tspan></text>
<text class="bll" x="2097" y="1386" text-anchor="middle">検討結果の説明</text>
<text class="m" y="1399"><tspan x="1830">▼</tspan><tspan x="1850">①</tspan><tspan x="1892">▽</tspan><tspan x="1913">②</tspan><tspan x="1996">▽</tspan><tspan x="2038">☆</tspan><tspan x="2100">▽</tspan><tspan x="2287">☆</tspan></text>
<text class="m" y="1434"><tspan x="1830">▼</tspan><tspan x="1850">①</tspan><tspan x="1892">▽</tspan><tspan x="1913">②</tspan><tspan x="1996">▽</tspan><tspan x="2038">☆</tspan><tspan x="2100">▽</tspan><tspan x="2287">☆</tspan></text>
<text class="m" y="1469"><tspan x="1830">▼</tspan><tspan x="1892">①</tspan><tspan x="2038">☆</tspan><tspan x="2100">▽</tspan><tspan x="2287">☆</tspan></text>
<text class="mt" x="1975" y="1469">▽</text>
<text class="m" x="1996" y="1462">②</text><text class="m" x="1996" y="1474">▽</text>
<text class="m" y="1503"><tspan x="1830">▼</tspan><tspan x="1850">①</tspan><tspan x="1892">▽</tspan><tspan x="1913">②</tspan><tspan x="1996">▽</tspan><tspan x="2038">☆</tspan><tspan x="2100">▽</tspan><tspan x="2287">☆</tspan></text>
<text class="m" y="1539"><tspan x="1830">▼</tspan><tspan x="1934">②</tspan><tspan x="1996">▽</tspan><tspan x="2038">☆</tspan><tspan x="2100">▽</tspan><tspan x="2287">☆</tspan></text>
<text class="m" x="1892" y="1531">①</text><text class="m" x="1892" y="1543">▽</text>
<text class="m" y="1573"><tspan x="1871">▽</tspan><tspan x="1934">②</tspan><tspan x="1996">▽</tspan><tspan x="2038">☆</tspan><tspan x="2100">▽</tspan><tspan x="2287">☆</tspan></text>
<text class="m" x="1892" y="1565">①</text><text class="m" x="1892" y="1577">▽</text>
<rect class="dot" x="1778" y="1586" width="271" height="15"/>
<text class="m" y="1598"><tspan x="1684">★</tspan><tspan x="1788">▼</tspan><tspan x="1809">①</tspan><tspan x="1892">▽</tspan><tspan x="1913">②</tspan><tspan x="1996">▽</tspan><tspan x="2038">☆</tspan></text>
<text class="gl" x="2021" y="1611" text-anchor="middle">構造成立性</text>
<rect class="dot" x="1694" y="1603" width="186" height="16"/>
<text class="m" y="1616"><tspan x="1705">▼</tspan><tspan x="1746">①</tspan><tspan x="1767">▼</tspan><tspan x="1788">②</tspan><tspan x="1830">▼</tspan><tspan x="1871">☆</tspan></text>
<text class="ms" x="1809" y="1610">▼</text><text class="ms" x="1809" y="1619">②</text>
<text class="gl" x="1884" y="1617">アンカー試験</text>
<text class="m" y="1642"><tspan x="1830">▼</tspan><tspan x="1850">①</tspan><tspan x="1892">▽</tspan><tspan x="1913">②</tspan><tspan x="1996">▽</tspan><tspan x="2038">☆</tspan><tspan x="2100">▽</tspan><tspan x="2287">☆</tspan></text>
<text class="m" y="1677"><tspan x="1830">▼</tspan><tspan x="1892">▽</tspan><tspan x="1913">②</tspan><tspan x="1996">▽</tspan><tspan x="2038">☆</tspan><tspan x="2100">▽</tspan><tspan x="2287">☆</tspan></text>
<text class="m" x="1850" y="1670">①</text><text class="m" x="1850" y="1682">①</text>
</g>

<g id="connectors">
<path class="cn" d="M821,108V327H833" marker-end="url(#ah)"/>
<path class="cn" d="M701,468V810"/>
<path class="cn" d="M701,471H713" marker-end="url(#ah)"/>
<path class="cn" d="M688,625H700" marker-end="url(#ah)"/>
<path class="cn" d="M688,807H700" marker-end="url(#ah)"/>
<path class="cn" d="M1122,367V838"/>
<path class="cn" d="M966,925V933H975" marker-end="url(#ah)"/>
<path class="cn" d="M1057,1200V917H1068" marker-end="url(#ah)"/>
<path class="cn" d="M1046,967H1056" marker-end="url(#ah)"/>
<path class="cn" d="M1046,1084H1056" marker-end="url(#ah)"/>
<path class="cn" d="M1046,1199H1056" marker-end="url(#ah)"/>
<path class="cn" d="M1771,108H1782V990"/>
<path class="cn" d="M1782,324H1793" marker-end="url(#ah)"/>
<path class="cn" d="M1782,452H1794" marker-end="url(#ah)"/>
<path class="cn" d="M1782,588H1794" marker-end="url(#ah)"/>
<path class="cn" d="M1782,596H1794" marker-end="url(#ah)"/>
<path class="cn" d="M1782,717H1794" marker-end="url(#ah)"/>
<path class="cn" d="M1852,98H1863V324H1875" marker-end="url(#ah)"/>
<path class="cn" d="M1904,227V324H1916" marker-end="url(#ah)"/>
<path class="cn" d="M1716,322H1727" marker-end="url(#ah)"/>
<path class="cn" d="M1986,446H1997" marker-end="url(#ah)"/>
<path class="cn" d="M1924,782H1936" marker-end="url(#ah)"/>
<path class="cn" d="M2053,487H2063" marker-end="url(#ah)"/>
<path class="cn" d="M1704,100H1714" marker-end="url(#ah)"/>
</g>

<g id="red-lines">
<path class="rd" d="M593,126H1715V373H1924"/>
<path class="rd3" d="M1721,357H1919"/>
<path class="rd3" d="M1918,357V988"/>
<path class="rd3" d="M1924,373V988"/>
<path class="rd" d="M1924,390H1986V469H2052V802H1923"/>
<path class="rd" d="M2052,537H2278"/>
<path d="M2280,537H2550" stroke="#E05A5A" stroke-width="4" stroke-dasharray="4,3" fill="none"/>
<path d="M2550,528L2567,537L2550,546z" fill="#E06666"/>
<rect x="2029" y="482" width="20" height="358" fill="none" stroke="#E00000" stroke-width="1.5" stroke-dasharray="3,2"/>
<rect x="2278" y="472" width="20" height="365" fill="none" stroke="#E00000" stroke-width="1.5" stroke-dasharray="3,2"/>
<path class="rd3" d="M1921,988H2040V961H2052" marker-end="url(#ahr)"/>
<text x="2061" y="966" font-size="12" font-weight="bold" fill="#E00000">地盤斜面の安定性〜アクセスルートへ</text>
</g>

<g id="callout-water-level">
<path class="ptr" d="M1950,110L1790,80L1950,124"/>
<rect class="co" x="1949" y="101" width="167" height="53" rx="8"/>
<text class="ct" x="1957" y="121">水位下降側の検討結果の資</text>
<text class="ct" x="1957" y="143">料提出時期を示す</text>
</g>
<g id="callout-no-impact">
<path class="ptr" d="M2038,262L2078,226L2085,262"/>
<rect class="co" x="2005" y="258" width="193" height="66" rx="8"/>
<text class="ct" x="2013" y="276" font-size="10.5">基準津波に影響がないことを説明</text>
<text class="ct" x="2013" y="295" font-size="10.5">※基準津波に影響のある波源が確認</text>
<text class="ct" x="2013" y="314" font-size="10.5">された場合は基準津波に追加する。</text>
</g>
<g id="callout-schedule-change">
<path class="ptr" d="M1116,306L1349,328L1320,306"/>
<rect class="co" x="647" y="257" width="810" height="53" rx="9"/>
<text class="ct" x="657" y="279">2023年6月、基準津波の組合せ評価において波源が変更となる見込みとなり、入力津波の追加解析が必要となる見通しとなったことから、スケ</text>
<text class="ct" x="657" y="301">ジュールを変更した。入力津波に係る解析の実施にあたっては、解析要員の増強や機器の増設により解析期間の短縮に努める。</text>
</g>
<g id="note-5">
<rect x="925" y="373" width="308" height="70" fill="#fff" stroke="#444" stroke-width="1.2"/>
<text class="ct" x="933" y="393" font-size="12.5">※5</text>
<text class="ct" x="933" y="414" font-size="12.5">基準津波の波源の追加、入力津波解析条件見直し及</text>
<text class="ct" x="933" y="435" font-size="12.5">び茶津入構トンネル等の追加解析を考慮</text>
</g>
<g id="callout-partial-results">
<path class="ptr" d="M2032,428L2042,513L2090,428"/>
<rect class="co" x="1990" y="375" width="246" height="57" rx="8"/>
<text class="ct" x="1998" y="397" font-size="12.5">評価方針を踏まえた解析結果の一部を説</text>
<text class="ct" x="1998" y="420" font-size="12.5">明し，入力津波の見通しを説明する。</text>
</g>
<g id="callout-input-tsunami">
<path class="ptr" d="M2278,428L2288,512L2321,428"/>
<rect class="co" x="2244" y="402" width="194" height="30" rx="6"/>
<text class="ct" x="2250" y="422">入力津波の評価結果を説明する。</text>
</g>
<g id="callout-vehicle-old">
<path class="ptr" d="M2337,593L2133,673L2383,593"/>
<rect class="co" x="2306" y="545" width="186" height="52" rx="8"/>
<text class="ct" x="2313" y="566" font-size="12.5" fill="#2E86C1" text-decoration="line-through">敷地内の車両(輸送車両以外)</text>
<text class="ct" x="2313" y="588" font-size="12.5" fill="#2E86C1" text-decoration="line-through">の検討結果について説明する。</text>
</g>
<g id="callout-fuel-ship">
<path class="ptr" d="M2310,650L2133,673L2310,674"/>
<rect class="co" x="2306" y="632" width="235" height="100" rx="10"/>
<text class="ct" x="2313" y="653" font-size="12.5">燃料等輸送船（燃料輸送以外の船舶を</text>
<text class="ct" x="2313" y="676" font-size="12.5">含む）の検討結果について説明する。</text>
<text class="ct" x="2313" y="699" font-size="12.5">また、敷地内の車両<tspan fill="#2E86C1" text-decoration="line-through">(輸送車両)</tspan>の検討</text>
<text class="ct" x="2313" y="722" font-size="12.5">結果について説明する。</text>
</g>
<g id="callout-drift-prevention">
<path d="M2347,785L2042,700L2400,785z" fill="#FFFF00" stroke="#444" stroke-width="1"/>
<rect x="2313" y="781" width="211" height="54" rx="6" fill="#FFFF00" stroke="#444" stroke-width="1.2"/>
<text class="ct" x="2320" y="802" font-size="12.5" fill="#3C9AD6">燃料等輸送船の漂流物化防止対策</text>
<text class="ct" x="2320" y="825" font-size="12.5" fill="#3C9AD6">の検討方針について説明する。</text>
</g>
<g id="callout-evacuation">
<path class="ptr" d="M1635,774L1687,706L1658,774M1712,774L1769,706L1721,790M1718,808L1873,706L1718,826"/>
<rect class="co" x="1486" y="770" width="235" height="100" rx="10"/>
<text class="ct" x="1494" y="791" font-size="12.5">津波到達までの退避および他の対策に</text>
<text class="ct" x="1494" y="813" font-size="12.5">よって燃料等輸送船が漂流物にならな</text>
<text class="ct" x="1494" y="835" font-size="12.5">いことについて、全体スケジュールへ</text>
<text class="ct" x="1494" y="857" font-size="12.5">の影響も含め検討状況を説明</text>
</g>
<g id="callout-tunnel">
<path class="ptr" d="M971,1233L929,1240L971,1250"/>
<rect class="co" x="967" y="1222" width="738" height="76" rx="9"/>
<text class="ct" x="977" y="1243" font-size="11.8">茶津入構トンネル及びアクセスルートトンネルに係る基準津波への影響評価結果については評価が完了次第通しNo. 7’にて説明す</text>
<text class="ct" x="977" y="1265" font-size="11.8">る。また、茶津入構トンネル及びアクセスルートトンネルに係る管路解析については通しNo.21の「耐津波設計に係る解析工程」</text>
<text class="ct" x="977" y="1287" font-size="11.8">において評価が完了次第説明する。</text>
</g>
<g id="callout-review-answer">
<path d="M2098,819L2042,777L2147,819" fill="none" stroke="#2E75B6" stroke-width="1"/>
<rect x="2063" y="819" width="207" height="27" fill="#fff" stroke="#2E75B6" stroke-width="1.2"/>
<text x="2070" y="839" font-size="13" font-weight="bold" fill="#222">審査会合指摘事項回答を行う。</text>
</g>
<g id="callout-interim">
<path d="M2091,879L2042,840L2137,879" fill="none" stroke="#2E75B6" stroke-width="1"/>
<rect x="2057" y="877" width="182" height="61" fill="#fff" stroke="#2E75B6" stroke-width="1.2"/>
<text x="2065" y="900" font-size="13" font-weight="bold" fill="#2E86C1">基準津波確定後の一通りの</text>
<text x="2065" y="926" font-size="13" font-weight="bold" fill="#2E86C1">説明<tspan text-decoration="line-through">（中間）</tspan></text>
</g>
<g id="callout-final">
<path d="M2314,879L2293,838L2360,879" fill="none" stroke="#2E75B6" stroke-width="1"/>
<rect x="2282" y="877" width="190" height="61" fill="#fff" stroke="#2E75B6" stroke-width="1.2"/>
<text x="2290" y="900" font-size="13" font-weight="bold" fill="#222">基準津波確定後の一通りの</text>
<text x="2290" y="926" font-size="13" font-weight="bold" fill="#222">説明時期<tspan fill="#2E86C1" text-decoration="line-through">（最終）</tspan></text>
</g>
</svg>
